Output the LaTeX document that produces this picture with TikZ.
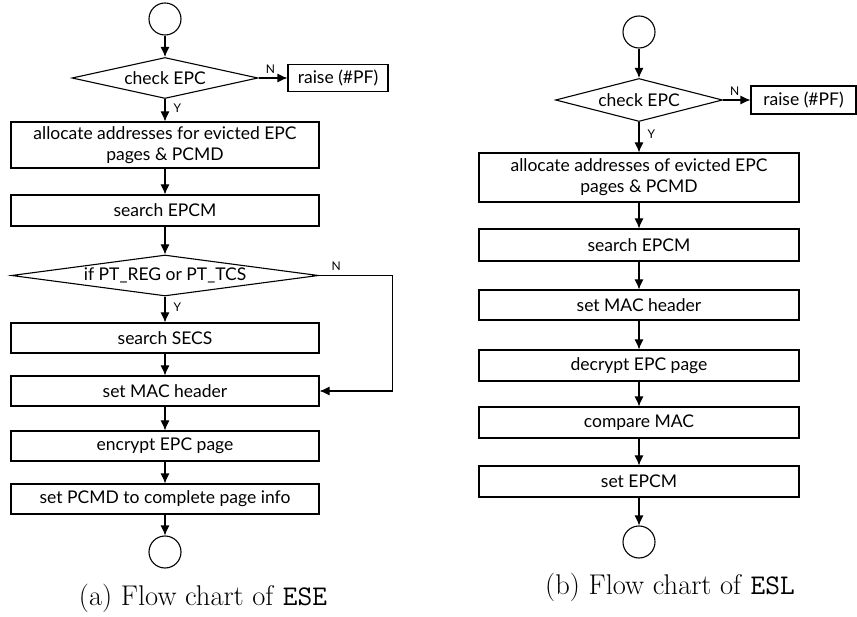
\documentclass[tikz,border=0pt]{standalone}
\usepackage{fontspec}
\newfontfamily\flowfont{Lato}
\usetikzlibrary{shapes.geometric,arrows.meta}

\tikzset{
  term/.style={draw, circle, minimum size=32pt, inner sep=0pt},
  cond/.style={draw, diamond, inner sep=0pt, font=\flowfont\fontsize{17.5}{21}\selectfont},
  proc/.style={draw, rectangle, inner sep=0pt, align=center, font=\flowfont\fontsize{17.5}{21}\selectfont},
  lbox/.style={proc, minimum width=308pt, minimum height=30pt},
  rbox/.style={proc, minimum width=320pt, minimum height=31pt},
  flow/.style={-{Latex[length=10pt,width=9pt]}},
  yn/.style={font=\flowfont\fontsize{12}{12}\selectfont, inner sep=1pt},
  caption/.style={font=\fontsize{28.5}{31}\selectfont},
}

\begin{document}
\begin{tikzpicture}[x=1pt, y=-1pt, line width=1.1pt]
\useasboundingbox (0,0) rectangle (857,617);

% (a) ESE
\node[term] (ls) at (165,19) {};
\node[cond, aspect=4.5, minimum width=186pt, minimum height=41pt] (lchk) at (165,78) {check EPC};
\node[proc, minimum width=100pt, minimum height=27pt] (lraise) at (338,78) {raise (\#PF)};
\node[lbox, minimum height=46pt] (lalloc) at (165,145) {allocate addresses for evicted EPC\\pages \& PCMD};
\node[lbox, minimum height=31pt] (lepcm) at (165,210.5) {search EPCM};
\node[cond, aspect=7.5, minimum width=307pt, minimum height=41pt] (ltype) at (165,275.5) {if PT\_REG or PT\_TCS};
\node[lbox] (lsecs) at (165,338) {search SECS};
\node[lbox] (lmac) at (165,391) {set MAC header};
\node[lbox] (lenc) at (165,446) {encrypt EPC page};
\node[lbox] (lpcmd) at (165,499) {set PCMD to complete page info};
\node[term] (le) at (165,552) {};
\node[caption] (lcap) at (203,598) {(a) Flow chart of \texttt{ESE}};

\draw[flow] (ls) -- (lchk);
\draw[flow] (lchk.east) -- node[yn, anchor=south west, pos=0.2, yshift=3pt] {N} (lraise.west);
\draw[flow] (lchk) -- node[yn, anchor=west, pos=0.4, xshift=7pt] {Y} (lalloc);
\draw[flow] (lalloc) -- (lepcm);
\draw[flow] (lepcm) -- (ltype);
\draw[flow] (ltype) -- node[yn, anchor=west, pos=0.4, xshift=7pt] {Y} (lsecs);
\draw[flow] (ltype.east) -- node[yn, anchor=south west, pos=0.15, yshift=3pt] {N} ++(73,0) |- (lmac.east);
\draw[flow] (lsecs) -- (lmac);
\draw[flow] (lmac) -- (lenc);
\draw[flow] (lenc) -- (lpcmd);
\draw[flow] (lpcmd) -- (le);

% (b) ESL
\node[term] (rs) at (639,32) {};
\node[cond, aspect=3.9, minimum width=167pt, minimum height=43pt] (rchk) at (639,100) {check EPC};
\node[proc, minimum width=105pt, minimum height=28pt] (rraise) at (803.5,100) {raise (\#PF)};
\node[rbox, minimum height=49pt] (ralloc) at (639,177.5) {allocate addresses of evicted EPC\\pages \& PCMD};
\node[rbox, minimum height=32pt] (repcm) at (639,245) {search EPCM};
\node[rbox, minimum height=30pt] (rmac) at (639,305) {set MAC header};
\node[rbox] (rdec) at (639,365.5) {decrypt EPC page};
\node[rbox] (rcmp) at (639,422.5) {compare MAC};
\node[rbox] (rset) at (639,481.5) {set EPCM};
\node[term] (re) at (639,542) {};
\node[caption] (rcap) at (670,587) {(b) Flow chart of \texttt{ESL}};

\draw[flow] (rs) -- (rchk);
\draw[flow] (rchk.east) -- node[yn, anchor=south west, pos=0.2, yshift=3pt] {N} (rraise.west);
\draw[flow] (rchk) -- node[yn, anchor=west, pos=0.4, xshift=7pt] {Y} (ralloc);
\draw[flow] (ralloc) -- (repcm);
\draw[flow] (repcm) -- (rmac);
\draw[flow] (rmac) -- (rdec);
\draw[flow] (rdec) -- (rcmp);
\draw[flow] (rcmp) -- (rset);
\draw[flow] (rset) -- (re);
\end{tikzpicture}
\end{document}
